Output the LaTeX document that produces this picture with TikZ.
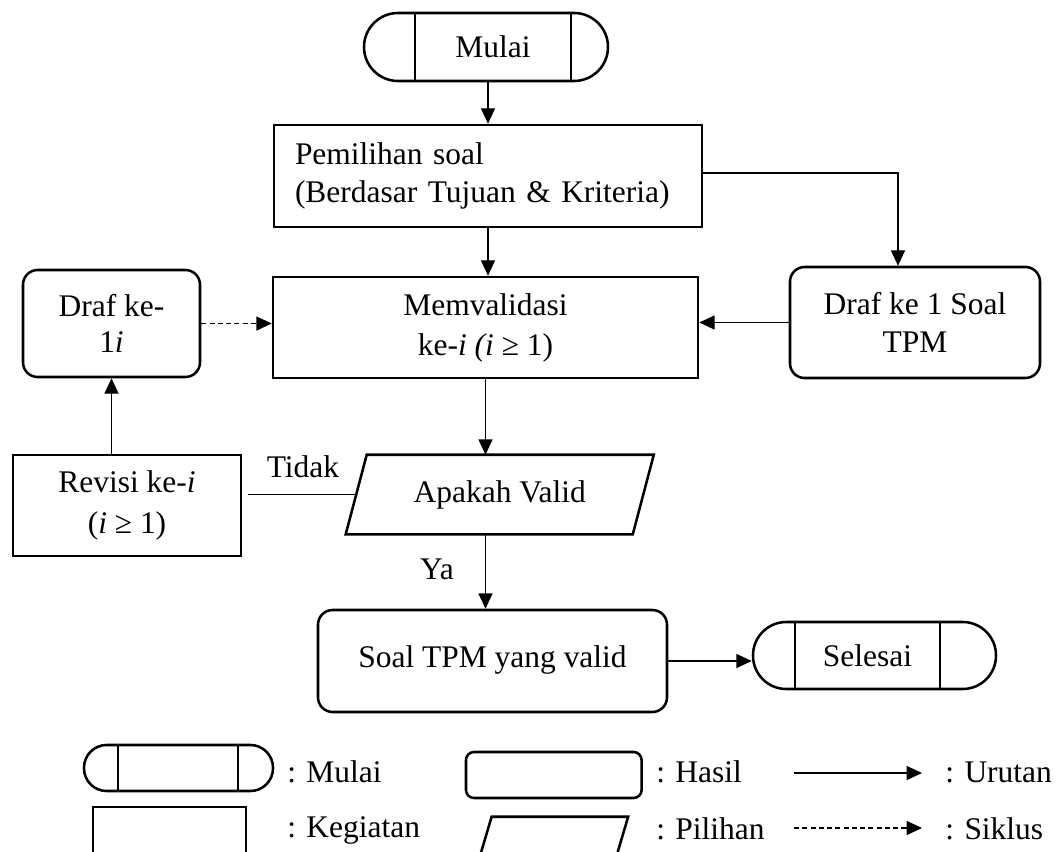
\documentclass[tikz,border=0pt]{standalone}
\usepackage{fontspec}
\setmainfont{Liberation Serif}
\usetikzlibrary{arrows.meta,calc}
\begin{document}
\begin{tikzpicture}[x=0.75pt,y=-0.75pt,
  every node/.style={font=\fontsize{23.6pt}{28.5pt}\selectfont, inner sep=0pt},
  frame/.style={draw, line width=1.9pt, align=center},
  roundframe/.style={frame, rounded corners=#1},
  conn/.style={line width=0.9pt},
  arr/.style={conn, -{Triangle[length=11.5pt,width=10.5pt]}},
  dasharr/.style={arr, dash pattern=on 3.8pt off 2.4pt},
  txt/.style={anchor=west}]
\useasboundingbox (0,0) rectangle (1057,852);
\clip (0,0) rectangle (1057,852);

% start terminal
\node[roundframe=25.5pt, minimum width=183pt, minimum height=51pt] (mulaiO) at (486,47) {};
\node[frame, minimum width=117pt, minimum height=51pt] (mulai) at (493,47) {Mulai};

% activities
\node[frame, align=left, text width=289.5pt, minimum width=321pt, minimum height=76.5pt,
      font=\fontsize{23.6pt}{29pt}\selectfont] (pilih) at (488,176)
  {Pemilihan soal\\(Berdasar Tujuan \& Kriteria)};
\node[frame, minimum width=318.75pt, minimum height=75.75pt,
      font=\fontsize{23.6pt}{30pt}\selectfont] (valid) at (485.5,327.5)
  {Memvalidasi\\ke-\textit{i (i} ≥ 1)};
\node[roundframe=11pt, minimum width=187.5pt, minimum height=83.25pt,
      font=\fontsize{23.6pt}{29pt}\selectfont] (draf1) at (915,322.5)
  {Draf ke 1 Soal\\TPM};
\node[roundframe=11pt, minimum width=132.75pt, minimum height=80.25pt,
      font=\fontsize{23.6pt}{27.5pt}\selectfont] (drafi) at (111.5,323.5)
  {Draf ke-\\1\textit{i}};
\node[frame, minimum width=171pt, minimum height=75.75pt,
      font=\fontsize{23.6pt}{31pt}\selectfont] (revisi) at (127,505.5)
  {Revisi ke-\textit{i}\\(\textit{i} ≥ 1)};

% decision
\node[minimum width=214.9pt, minimum height=59.25pt] (apakah) at (499.75,494.5) {Apakah Valid};
\draw[line width=1.9pt] ($(apakah.north west)+(10.5,0)$) -- ($(apakah.north east)+(10.5,0)$)
  -- ($(apakah.south east)+(-10.5,0)$) -- ($(apakah.south west)+(-10.5,0)$) -- cycle;

% result and end terminal
\node[roundframe=11pt, minimum width=261.75pt, minimum height=76.5pt] (soal) at (492.5,661)
  {\raisebox{6.75pt}{Soal TPM yang valid}};
\node[roundframe=25pt, minimum width=182.25pt, minimum height=50.25pt] (selesaiO) at (874.5,655.5) {};
\node[frame, minimum width=108.75pt, minimum height=50.25pt] (selesai) at (867.5,655.5) {Selesai};

% connectors
\draw[arr] (mulai.south -| pilih.north) -- (pilih.north);
\draw[arr] (pilih.south) -- (pilih.south |- valid.north);
\draw[arr] ($(pilih.east)+(0,-3)$) -| ($(draf1.north)+(-17,0)$);
\draw[arr] (draf1.west) -- (draf1.west -| valid.east);
\draw[dasharr] (drafi.east) -- (drafi.east -| valid.west);
\draw[arr] (valid.south) -- (valid.south |- apakah.north);
\draw[conn] (apakah.west) -- ($(apakah.west -| revisi.east)+(6,0)$);
\node (tidak) at (303,467) {Tidak};
\draw[arr] (revisi.north -| drafi.south) -- (drafi.south);
\draw[arr] (valid.south |- apakah.south) -- (valid.south |- soal.north);
\node (ya) at (437,569) {Ya};
\draw[arr] (soal.east) -- (soal.east -| selesaiO.west);

% legend
\node[roundframe=17pt, minimum width=141.75pt, minimum height=34.5pt] (legMulaiO) at (178.5,768) {};
\node[frame, minimum width=90pt, minimum height=34.5pt] (legMulai) at (178,768) {};
\node[txt] (tMulai) at (287,772) {: Mulai};
\node[frame, minimum width=114.75pt, minimum height=34.5pt] (legKeg) at (169.5,830) {};
\node[txt] (tKeg) at (287,830) {: Kegiatan};
\node[roundframe=6pt, minimum width=131.7pt, minimum height=34.5pt] (legHasil) at (553.8,775) {};
\node[txt] (tHasil) at (656,772) {: Hasil};
\node[minimum width=102pt, minimum height=34.5pt] (legPil) at (553,840) {};
\draw[line width=1.9pt] ($(legPil.north west)+(6.9,0)$) -- ($(legPil.north east)+(6.9,0)$)
  -- ($(legPil.south east)+(-6.9,0)$) -- ($(legPil.south west)+(-6.9,0)$) -- cycle;
\node[txt] (tPil) at (656,829) {: Pilihan};
\coordinate (u1) at (794,773);
\coordinate (u2) at (922,773);
\draw[arr] (u1) -- (u2);
\node[txt] (tUrut) at (945,772) {: Urutan};
\coordinate (s1) at (794,828);
\coordinate (s2) at (922,828);
\draw[dasharr] (s1) -- (s2);
\node[txt] (tSik) at (945,829) {: Siklus};
\end{tikzpicture}
\end{document}
